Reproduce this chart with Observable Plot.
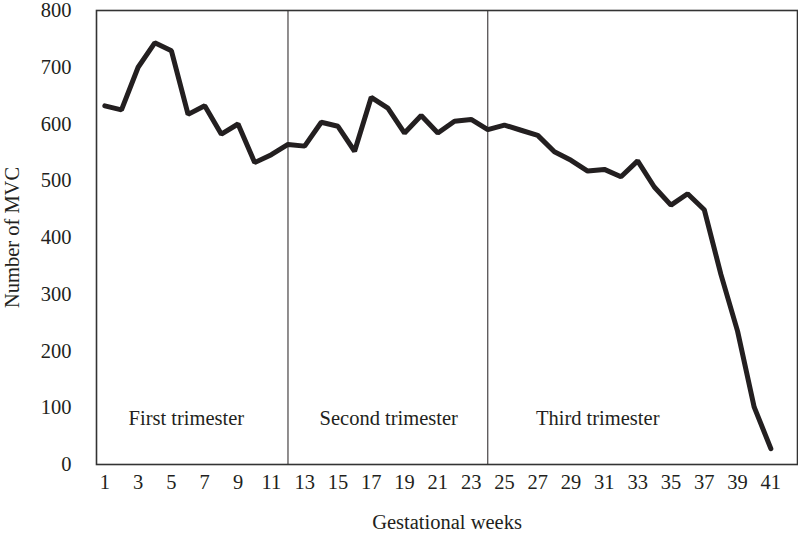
<!DOCTYPE html>
<html>
<head>
<meta charset="utf-8">
<script src="https://cdn.jsdelivr.net/npm/d3@7"></script>
<script src="https://cdn.jsdelivr.net/npm/@observablehq/plot@0.6"></script>
<style>
  html, body { margin: 0; padding: 0; background: #fff; }
  #chart { width: 798px; height: 536px; }
  #chart svg g[aria-label$="label"] text { font-size: 20.5px; }
</style>
</head>
<body>
<div id="chart"></div>
<script>
const weeks = d3.range(1, 42);
const mvc = [632, 625, 700, 743, 729, 617, 632, 582, 600, 532,
             546, 564, 561, 603, 596, 552, 647, 628, 584, 615,
             584, 605, 608, 590, 598, 589, 580, 551, 536, 517,
             520, 507, 535, 489, 457, 477, 449, 335, 235, 101, 28];
const xTicks = d3.range(1, 42, 2);
const yTicks = d3.range(0, 801, 100);
const trimesterBounds = [12, 24];
const trimesterLabels = ["First trimester", "Second trimester", "Third trimester"];
const trimesterLabelWeek = [5.9, 18.05, 30.6];
const trimesterLabelValue = [81, 81, 81];

const data = weeks.map((w, i) => ({week: w, value: mvc[i]}));
const labels = trimesterLabels.map((t, i) => ({text: t, x: trimesterLabelWeek[i], y: trimesterLabelValue[i]}));

const ink = "#231f20";
const chart = Plot.plot({
  width: 798,
  height: 536,
  marginLeft: 96,
  marginRight: 1,
  marginTop: 10,
  marginBottom: 72,
  style: {fontFamily: "'Liberation Serif', 'Times New Roman', serif", fontSize: "18px", color: ink, background: "#fff"},
  x: {domain: [0.5, 42.6], ticks: xTicks, tickSize: 0, tickPadding: 10, label: "Gestational weeks", labelAnchor: "center", labelOffset: 64, labelArrow: "none"},
  y: {domain: [0, 800], ticks: yTicks, tickSize: 0, tickPadding: 25, label: "Number of MVC", labelAnchor: "center", labelOffset: 92, labelArrow: "none"},
  marks: [
    Plot.ruleX(trimesterBounds, {stroke: ink, strokeWidth: 1}),
    Plot.frame({stroke: "#333", strokeWidth: 1.6}),
    Plot.line(data, {x: "week", y: "value", stroke: ink, strokeWidth: 5, strokeLinejoin: "miter", strokeLinecap: "round"}),
    Plot.text(labels, {x: "x", y: "y", text: "text", fill: ink, fontSize: 20.5})
  ]
});
document.getElementById("chart").appendChild(chart);
</script>
</body>
</html>
